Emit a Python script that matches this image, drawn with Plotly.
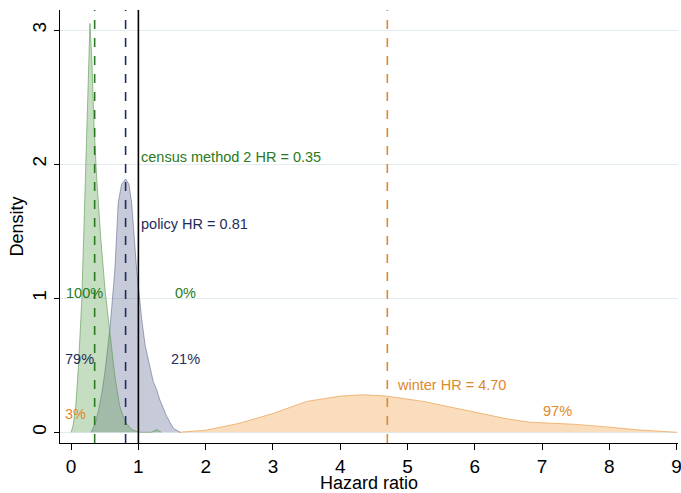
import plotly.graph_objects as go

# Density curves
census_x = [0.0, 0.03, 0.07, 0.11, 0.16, 0.22, 0.25, 0.28, 0.31, 0.34, 0.38, 0.44, 0.505, 0.58, 0.65, 0.72, 0.8, 0.9, 1.0, 1.2, 1.27, 1.34]
census_y = [0.0, 0.05, 0.2, 0.5, 1.0, 2.0, 2.6, 3.05, 2.75, 2.3, 1.9, 1.45, 1.06, 0.71, 0.42, 0.2, 0.08, 0.02, 0.0, 0.0, 0.02, 0.0]

policy_x = [0.3, 0.36, 0.41, 0.46, 0.505, 0.58, 0.65, 0.70, 0.75, 0.81, 0.86, 0.90, 0.975, 1.05, 1.1, 1.17, 1.22, 1.27, 1.32, 1.42, 1.52, 1.62]
policy_y = [0.0, 0.07, 0.17, 0.3, 0.46, 0.79, 1.21, 1.71, 1.85, 1.89, 1.85, 1.71, 1.21, 0.84, 0.65, 0.5, 0.38, 0.32, 0.24, 0.12, 0.03, 0.0]

winter_x = [1.6, 2.0, 2.5, 3.0, 3.5, 4.0, 4.34, 4.69, 5.24, 5.98, 6.48, 6.82, 7.47, 7.96, 8.45, 9.0]
winter_y = [0.0, 0.015, 0.067, 0.14, 0.23, 0.27, 0.28, 0.27, 0.23, 0.15, 0.10, 0.075, 0.06, 0.04, 0.017, 0.0]

hr_values = [0.35, 0.81, 4.70]
null_hr = 1.0

x_ticks = [0, 1, 2, 3, 4, 5, 6, 7, 8, 9]
y_ticks = [0, 1, 2, 3]

GREEN = "#2a7a22"
NAVY = "#1f2d5c"
ORANGE = "#e0882a"

fig = go.Figure()

fig.add_trace(go.Scatter(x=winter_x, y=winter_y, mode="lines", fill="tozeroy",
                         line=dict(color="rgba(235,160,80,0.7)", width=1),
                         fillcolor="rgba(242,170,90,0.4)", hoverinfo="skip", showlegend=False))
fig.add_trace(go.Scatter(x=policy_x, y=policy_y, mode="lines", fill="tozeroy",
                         line=dict(color="rgba(60,70,110,0.45)", width=1),
                         fillcolor="rgba(70,80,130,0.3)", hoverinfo="skip", showlegend=False))
fig.add_trace(go.Scatter(x=census_x, y=census_y, mode="lines", fill="tozeroy",
                         line=dict(color="rgba(90,150,80,0.6)", width=1),
                         fillcolor="rgba(95,160,80,0.36)", hoverinfo="skip", showlegend=False))

# reference lines
for v, c, d in [(hr_values[0], GREEN, "dash"), (hr_values[1], NAVY, "dash"),
                (null_hr, "black", "solid"), (hr_values[2], ORANGE, "dash")]:
    fig.add_shape(type="line", x0=v, x1=v, y0=0, y1=1, xref="x", yref="paper",
                  line=dict(color=c, width=1.6, dash=d))

ann = [
    (1.04, 2.05, "census method 2 HR = 0.35", GREEN),
    (1.04, 1.55, "policy HR = 0.81", NAVY),
    (-0.075, 1.04, "100%", GREEN),
    (1.545, 1.04, "0%", GREEN),
    (-0.09, 0.55, "79%", NAVY),
    (1.49, 0.55, "21%", NAVY),
    (-0.09, 0.14, "3%", ORANGE),
    (4.84, 0.35, "winter HR = 4.70", ORANGE),
    (7.01, 0.16, "97%", ORANGE),
]
for x, y, t, c in ann:
    fig.add_annotation(x=x, y=y, text=t, showarrow=False, xanchor="left", yanchor="middle",
                       xshift=-2, font=dict(color=c, size=14.5))

# x axis title placed below tick labels
fig.add_annotation(x=0.5, y=0, xref="paper", yref="paper", text="Hazard ratio", showarrow=False,
                   xanchor="center", yanchor="middle", yshift=-40, font=dict(size=18, color="black"))

fig.update_layout(
    width=681, height=493,
    margin=dict(l=60, r=3, t=10, b=50),
    plot_bgcolor="white", paper_bgcolor="white",
    font=dict(family="Liberation Sans, Arial, sans-serif", color="black", size=19),
    showlegend=False,
)
fig.update_xaxes(range=[-0.165, 9.02], tickvals=x_ticks, showline=True, linecolor="black",
                 linewidth=1.2, ticks="outside", ticklen=6, tickcolor="black", showgrid=False,
                 zeroline=False, automargin=False, ticklabelstandoff=0, ticklabeloverflow="allow",
                 tickfont=dict(size=19))
fig.update_yaxes(range=[-0.08, 3.15], tickvals=y_ticks, showline=True, linecolor="black",
                 linewidth=1.2, ticks="outside", ticklen=5, tickcolor="black", showgrid=True,
                 gridcolor="#e3edf0", gridwidth=1, zeroline=False, tickangle=-90, automargin=False,
                 title=dict(text="Density", font=dict(size=18), standoff=0),
                 tickfont=dict(size=19))

fig.write_html("out.html", config={"displayModeBar": False},
               post_script="document.body.style.margin='0';")
